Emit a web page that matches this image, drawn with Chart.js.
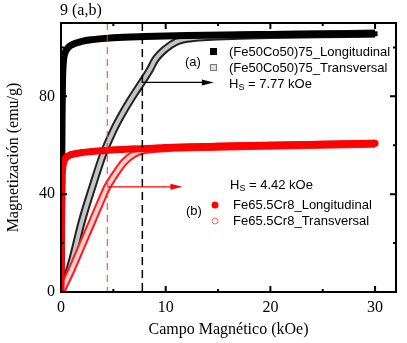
<!DOCTYPE html>
<html>
<head>
<meta charset="utf-8">
<script src="https://cdn.jsdelivr.net/npm/chart.js@4.4.1/dist/chart.umd.min.js"></script>
<style>
  html, body { margin: 0; padding: 0; background: #fff; }
  #wrap { width: 407px; height: 343px; }
</style>
</head>
<body>
<div id="wrap"><canvas id="myChart"></canvas></div>
<script>
"use strict";

// values (field in kOe, magnetization in emu/g)
const feCoLongX = [0, 0.02, 0.04, 0.06, 0.08, 0.1, 0.13, 0.17, 0.25, 0.4, 0.7, 1, 2, 3, 5, 8, 12, 20, 30];
const feCoLongY = [0, 10, 25, 40, 55, 70, 82, 90, 95, 98, 100, 101, 102.5, 103.2, 104, 104.5, 104.9, 105.3, 105.6];

const feCoTransX = [0, 0.5, 1, 2, 3, 4, 5, 6, 7, 7.77, 8.5, 9, 10, 11, 12, 14, 17, 20, 25, 30];
const feCoTransY = [0, 5, 12, 29, 43, 56, 66, 74, 81, 86, 91, 95, 99.5, 102.3, 103.5, 104.3, 104.8, 105.1, 105.4, 105.7];

const feCrLongX = [0, 0.02, 0.04, 0.06, 0.08, 0.1, 0.15, 0.25, 0.5, 1, 2, 4, 7, 10, 15, 20, 25, 30];
const feCrLongY = [0, 10, 20, 30, 38, 45, 50, 53, 55, 56.2, 57, 57.8, 58.5, 59, 59.6, 60, 60.4, 60.8];

const feCrTransX = [0, 1, 2, 3, 4, 4.42, 5, 6, 7, 8, 10, 15, 20, 30];
const feCrTransY = [0, 9, 19, 29, 39, 43, 47, 53, 56.5, 58, 58.8, 59.4, 59.8, 60.6];

const hsA = 7.77;
const hsB = 4.42;

const xTicks = [0, 10, 20, 30];
const yTicks = [0, 40, 80];

function toPoints(xs, ys) {
  let data = [];
  for (let i = 0; i < xs.length; i++) {
    data.push({ x: xs[i], y: ys[i] });
  }
  return data;
}

/*-----annotations, frame and inward ticks--------------------*/
const decorPlugin = {
  id: "decor",
  afterDatasetsDraw(chart) {
    const ctx = chart.ctx;
    const a = chart.chartArea;
    const xs = chart.scales.x;
    const ys = chart.scales.y;

    ctx.save();
    // dashed H_S lines
    ctx.lineWidth = 1;
    ctx.setLineDash([7, 5]);
    ctx.strokeStyle = "#ff3333";
    ctx.beginPath();
    ctx.moveTo(xs.getPixelForValue(hsB), a.top);
    ctx.lineTo(xs.getPixelForValue(hsB), a.bottom);
    ctx.stroke();
    ctx.strokeStyle = "#000";
    ctx.lineWidth = 1.5;
    ctx.setLineDash([8, 5]);
    ctx.beginPath();
    ctx.moveTo(xs.getPixelForValue(hsA), a.top);
    ctx.lineTo(xs.getPixelForValue(hsA), a.bottom);
    ctx.stroke();
    ctx.setLineDash([]);

    // arrows
    function arrow(x0, x1, yv, color) {
      const px0 = xs.getPixelForValue(x0);
      const px1 = xs.getPixelForValue(x1);
      const py = ys.getPixelForValue(yv);
      ctx.strokeStyle = color;
      ctx.fillStyle = color;
      ctx.lineWidth = 1.2;
      ctx.beginPath();
      ctx.moveTo(px0, py);
      ctx.lineTo(px1 - 6, py);
      ctx.stroke();
      ctx.beginPath();
      ctx.moveTo(px1, py);
      ctx.lineTo(px1 - 12, py - 3);
      ctx.lineTo(px1 - 12, py + 3);
      ctx.closePath();
      ctx.fill();
    }
    arrow(hsA, 14.6, 85.7, "#000");
    arrow(hsB, 11.6, 43, "#ff0000");

    // frame
    ctx.strokeStyle = "#000";
    ctx.lineWidth = 2;
    ctx.strokeRect(a.left, a.top, a.right - a.left, a.bottom - a.top);

    // inward ticks
    ctx.lineWidth = 2;
    for (let v = 0; v <= 30; v += 5) {
      const px = xs.getPixelForValue(v);
      const len = v % 10 === 0 ? 6 : 3;
      ctx.beginPath();
      ctx.moveTo(px, a.bottom);
      ctx.lineTo(px, a.bottom - len);
      ctx.moveTo(px, a.top);
      ctx.lineTo(px, a.top + len);
      ctx.stroke();
    }
    for (let v = 0; v <= 100; v += 20) {
      const py = ys.getPixelForValue(v);
      const len = v % 40 === 0 ? 6 : 3;
      ctx.beginPath();
      ctx.moveTo(a.left, py);
      ctx.lineTo(a.left + len, py);
      ctx.moveTo(a.right, py);
      ctx.lineTo(a.right - len, py);
      ctx.stroke();
    }

    // legend texts
    ctx.fillStyle = "#000";
    ctx.font = "13px 'Liberation Sans', Arial, sans-serif";
    ctx.textBaseline = "middle";
    ctx.textAlign = "left";
    ctx.fillText("(Fe50Co50)75_Longitudinal", 229, 52);
    ctx.fillText("(Fe50Co50)75_Transversal", 229, 68);
    ctx.fillText("(a)", 185, 62);
    ctx.fillText("(b)", 186, 211);
    ctx.fillText("Fe65.5Cr8_Longitudinal", 233, 205);
    ctx.fillText("Fe65.5Cr8_Transversal", 233, 221);

    function hsLabel(x, y, txt) {
      ctx.font = "13px 'Liberation Sans', Arial, sans-serif";
      ctx.fillText("H", x, y);
      const w = ctx.measureText("H").width;
      ctx.font = "9px 'Liberation Sans', Arial, sans-serif";
      ctx.fillText("S", x + w, y + 4);
      const w2 = ctx.measureText("S").width;
      ctx.font = "13px 'Liberation Sans', Arial, sans-serif";
      ctx.fillText(" = " + txt, x + w + w2, y);
    }
    hsLabel(229, 84, "7.77 kOe");
    hsLabel(230, 185, "4.42 kOe");

    // legend symbols
    ctx.fillStyle = "#000";
    ctx.fillRect(210, 48, 7, 7);
    ctx.fillStyle = "#ddd";
    ctx.fillRect(210, 64, 7, 7);
    ctx.strokeStyle = "#777";
    ctx.lineWidth = 1;
    ctx.strokeRect(210.5, 64.5, 6, 6);
    ctx.fillStyle = "#ff0000";
    ctx.beginPath();
    ctx.arc(215, 205, 3.5, 0, Math.PI * 2);
    ctx.fill();
    ctx.strokeStyle = "#ff6666";
    ctx.beginPath();
    ctx.arc(215, 221, 3, 0, Math.PI * 2);
    ctx.stroke();

    // panel title
    ctx.font = "16px 'Liberation Serif', 'Times New Roman', serif";
    ctx.fillStyle = "#000";
    ctx.fillText("9 (a,b)", 60, 11);
    ctx.restore();
  },
};

/*-----Scatter-------------------------------------------------*/
const serif = "'Liberation Serif', 'Times New Roman', serif";

// lower "order" is drawn on top
const config = {
  type: "scatter",
  data: {
    datasets: [
      {
        label: "(Fe50Co50)75_Transversal outline",
        data: toPoints(feCoTransX, feCoTransY),
        order: 6,
        showLine: true,
        borderColor: "#222",
        borderWidth: 8,
        pointRadius: 0,
        cubicInterpolationMode: "monotone",
      },
      {
        label: "(Fe50Co50)75_Transversal",
        data: toPoints(feCoTransX, feCoTransY),
        order: 5,
        showLine: true,
        borderColor: "#c4c4c4",
        borderWidth: 4,
        pointRadius: 0,
        cubicInterpolationMode: "monotone",
      },
      {
        label: "(Fe50Co50)75_Longitudinal",
        data: toPoints(feCoLongX, feCoLongY),
        order: 4,
        showLine: true,
        borderColor: "#000",
        borderWidth: 7,
        pointStyle: "rect",
        pointRadius: 3.5,
        backgroundColor: "#000",
        pointBorderWidth: 0,
        cubicInterpolationMode: "monotone",
      },
      {
        label: "Fe65.5Cr8_Transversal outline",
        data: toPoints(feCrTransX, feCrTransY),
        order: 3,
        showLine: true,
        borderColor: "#ff1a1a",
        borderWidth: 8,
        pointRadius: 0,
        cubicInterpolationMode: "monotone",
      },
      {
        label: "Fe65.5Cr8_Transversal",
        data: toPoints(feCrTransX, feCrTransY),
        order: 2,
        showLine: true,
        borderColor: "#ffd0d0",
        borderWidth: 4,
        pointRadius: 0,
        cubicInterpolationMode: "monotone",
      },
      {
        label: "Fe65.5Cr8_Longitudinal",
        data: toPoints(feCrLongX, feCrLongY),
        order: 1,
        showLine: true,
        borderColor: "#ff0000",
        borderWidth: 7,
        pointStyle: "circle",
        pointRadius: 3.5,
        backgroundColor: "#ff0000",
        pointBorderWidth: 0,
        cubicInterpolationMode: "monotone",
      },
    ],
  },
  options: {
    responsive: true,
    maintainAspectRatio: false,
    animation: false,
    layout: {
      padding: { top: 23, right: 11, left: 0, bottom: 0 },
    },
    plugins: {
      legend: { display: false },
      tooltip: { enabled: false },
    },
    scales: {
      x: {
        type: "linear",
        min: 0,
        max: 32,
        grid: { display: false, drawTicks: false },
        border: { display: false },
        afterFit(scale) { scale.height = 51; },
        ticks: {
          stepSize: 10,
          includeBounds: false,
          autoSkip: false,
          padding: 6,
          color: "#000",
          font: { family: serif, size: 16 },
          callback: (v) => (xTicks.includes(v) ? v : ""),
        },
        title: {
          display: true,
          text: "Campo Magnético (kOe)",
          color: "#000",
          font: { family: serif, size: 16 },
          padding: { top: 4 },
        },
      },
      y: {
        type: "linear",
        min: 0,
        max: 110,
        grid: { display: false, drawTicks: false },
        border: { display: false },
        afterFit(scale) { scale.width = 61; },
        ticks: {
          stepSize: 40,
          includeBounds: false,
          autoSkip: false,
          padding: 6,
          color: "#000",
          font: { family: serif, size: 16 },
          callback: (v) => (yTicks.includes(v) ? v : ""),
        },
        title: {
          display: true,
          text: "Magnetización (emu/g)",
          color: "#000",
          font: { family: serif, size: 16 },
          padding: { bottom: 4 },
        },
      },
    },
  },
  plugins: [decorPlugin],
};

new Chart(document.getElementById("myChart"), config);
</script>
</body>
</html>
